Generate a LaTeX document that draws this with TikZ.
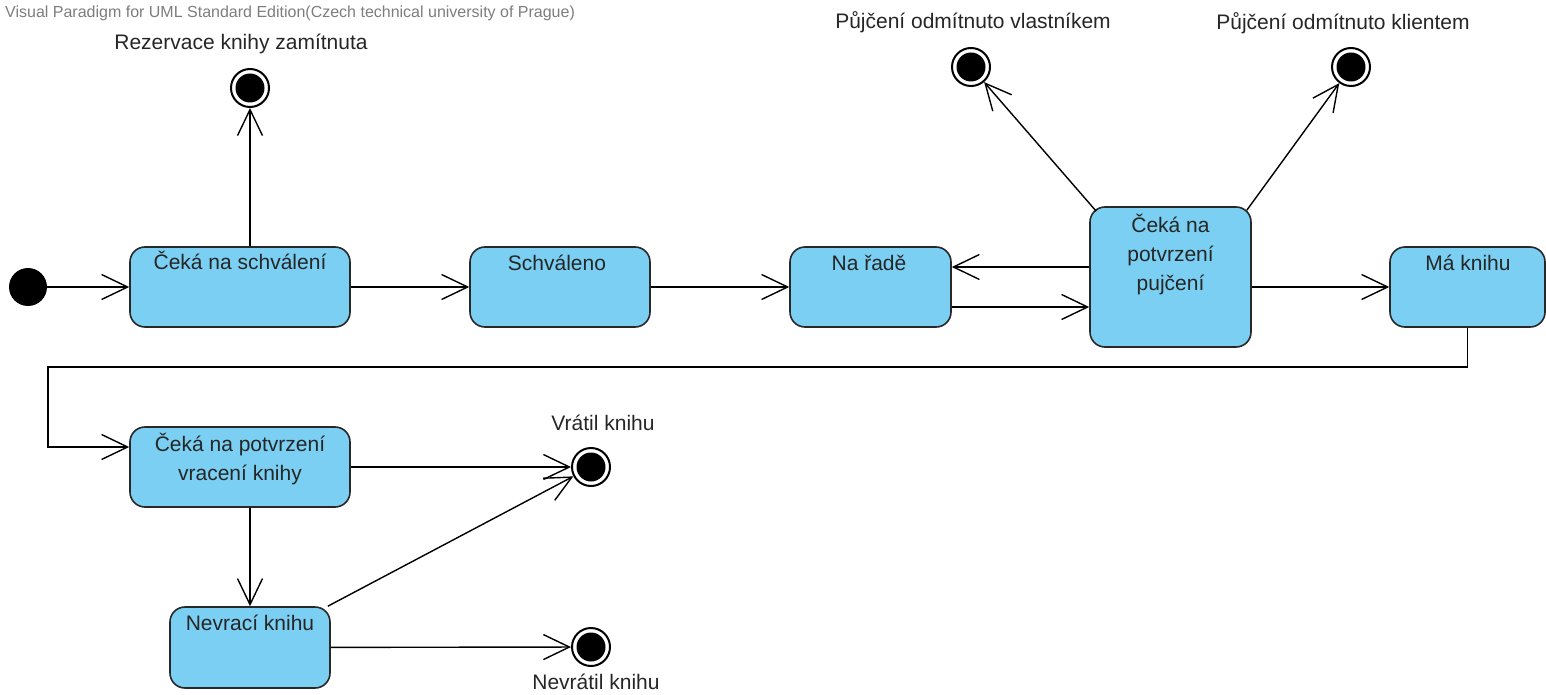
\documentclass[tikz,border=0pt]{standalone}
\usepackage{fontspec}
\setmainfont{Liberation Sans}
\usetikzlibrary{arrows.meta,calc}
\definecolor{stfill}{RGB}{122,207,242}
\definecolor{stline}{RGB}{40,40,40}
\definecolor{wmark}{RGB}{125,125,125}
\begin{document}
\begin{tikzpicture}[x=1pt,y=-1pt,
  stbox/.style={draw=stline,line width=1.6pt,fill=stfill,rounded corners=15pt,inner sep=0pt},
  sttext/.style={anchor=base,align=center,font=\fontsize{21}{29}\selectfont,text=black!85,inner sep=0pt},
  lbl/.style={anchor=base,font=\fontsize{21}{25}\selectfont,text=black!85,inner sep=0pt},
  initst/.style={circle,fill=black,minimum size=38pt,inner sep=0pt},
  finst/.style={circle,draw=black,line width=2pt,fill=white,minimum size=38pt,inner sep=0pt,
    path picture={\fill[black] (path picture bounding box.center) circle (14.5pt);}},
  tr/.style={draw=black,line width=1.4pt,-{Straight Barb[length=26pt,width=25pt]}},
  ln/.style={draw=black,line width=1.4pt}]
\useasboundingbox (0,0) rectangle (1546,695);

% watermark
\node[anchor=base west,inner sep=0pt,font=\fontsize{16}{18}\selectfont,text=wmark] (W) at (5,18)
  {Visual Paradigm for UML Standard Edition(Czech technical university of Prague)};

% states
\node[stbox,minimum width=220pt,minimum height=80pt] (A) at (240,287) {};
\node[sttext] (At) at (240,269) {Čeká na schválení};
\node[stbox,minimum width=180pt,minimum height=80pt] (B) at (560,287) {};
\node[sttext] (Bt) at (557,270) {Schváleno};
\node[stbox,minimum width=161pt,minimum height=80pt] (C) at (870.5,287) {};
\node[sttext] (Ct) at (869,270) {Na řadě};
\node[stbox,minimum width=161pt,minimum height=140pt] (P) at (1170.5,277) {};
\node[sttext] (Pt) at (1170.5,290) {Čeká na\\potvrzení\\pujčení};
\node[stbox,minimum width=155pt,minimum height=80pt] (M) at (1467.5,287) {};
\node[sttext] (Mt) at (1468,270) {Má knihu};
\node[stbox,minimum width=220pt,minimum height=80pt] (D) at (240,467) {};
\node[sttext] (Dt) at (240,480) {Čeká na potvrzení\\vracení knihy};
\node[stbox,minimum width=160pt,minimum height=81pt] (E) at (250,647.5) {};
\node[sttext] (Et) at (250,630) {Nevrací knihu};

% pseudo states
\node[initst] (I) at (28,287) {};
\node[finst] (Fr) at (250,88) {};
\node[finst] (Fvl) at (971,67) {};
\node[finst] (Fkl) at (1351,67) {};
\node[finst] (Fv) at (591,467) {};
\node[finst] (Fn) at (591,647) {};

% labels of final states
\node[lbl] (Lr) at (241,50) {Rezervace knihy zamítnuta};
\node[lbl] (Lvl) at (973,29) {Půjčení odmítnuto vlastníkem};
\node[lbl] (Lkl) at (1343,30) {Půjčení odmítnuto klientem};
\node[lbl] (Lv) at (603,430) {Vrátil knihu};
\node[lbl] (Ln) at (596,689) {Nevrátil knihu};

% transitions
\draw[tr] (I) -- (A);
\draw[tr] (A) -- (B);
\draw[tr] (B) -- (C);
\draw[tr] (Fr |- A.north) -- (Fr);
\draw[tr] ([yshift=10pt]P.west) -- ([yshift=10pt]P.west -| C.east);
\draw[tr] ([yshift=-20pt]C.east) -- ([yshift=-20pt]C.east -| P.west);
\coordinate (pvl) at ($(P.north west)+(7,5)$);
\coordinate (pkl) at ($(P.north east)+(-5,4)$);
\draw[tr] (pvl) -- (Fvl);
\draw[tr] (pkl) -- (Fkl);
\draw[tr] (P.east |- M) -- (M);
\coordinate (k1) at (48,367);
\draw[tr] (M.south) |- (k1) |- ([yshift=20pt]D.west);
\draw[tr] (D) -- (Fv);
\draw[tr] (E.north |- D.south) -- (E.north);
\draw[tr] (E) -- (Fv);
\draw[tr] (E) -- (Fn);
\end{tikzpicture}
\end{document}
